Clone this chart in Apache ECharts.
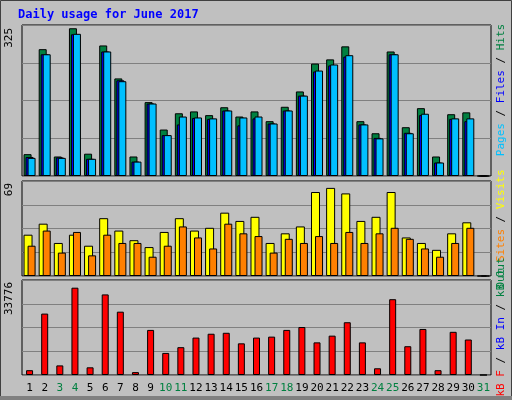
<!DOCTYPE html>
<html>
<head>
<meta charset="utf-8">
<script src="https://cdn.jsdelivr.net/npm/echarts@6/dist/echarts.min.js"></script>
<style>
  html, body { margin: 0; padding: 0; background: #c0c0c0; }
  #chart { width: 512px; height: 400px; }
</style>
</head>
<body>
<div id="chart"></div>
<script>
var days = [];
for (var d = 1; d <= 31; d++) days.push(String(d));
var weekend = ['3','4','10','11','17','18','24','25','31'];

var hits  = [47,273,42,318,48,281,210,42,159,100,135,139,131,148,128,139,118,149,182,242,251,279,118,92,268,105,146,42,133,137,0];
var files = [41,262,40,305,37,268,206,31,156,88,111,125,123,141,109,124,113,141,173,225,238,257,111,82,262,93,131,29,123,118,0];
var pages = [39,262,39,306,37,268,204,31,156,88,128,126,124,141,126,128,113,141,173,227,240,260,111,81,262,92,134,29,124,124,0];

var visits = [30,38,24,30,22,42,33,26,21,32,42,33,35,46,40,43,24,31,36,61,64,60,40,43,61,28,24,19,31,39,0];
var sites  = [22,33,17,32,15,30,24,24,14,22,36,28,20,38,31,29,17,27,24,29,24,32,24,31,35,27,20,14,24,35,0];

var kbytes = [1706,21830,3411,31040,2729,28650,22510,1023,16030,7846,9892,13300,14670,15010,11260,13300,13640,16030,17060,11600,13990,18760,11600,2388,26950,10230,16370,1706,15350,12620,0];

var maxHits = 325, maxVisits = 69, maxKB = 33776;

function yAx(idx, max) {
  return {
    gridIndex: idx, min: 0, max: max, interval: max / 4,
    axisLabel: { show: false }, axisLine: { show: false }, axisTick: { show: false },
    splitLine: { lineStyle: { color: '#808080', width: 1 } }
  };
}
function xAx(idx, labels) {
  return {
    gridIndex: idx, type: 'category', data: days,
    axisLine: { show: false }, axisTick: { show: false },
    axisLabel: labels ? {
      margin: 8, interval: 0, fontFamily: 'DejaVu Sans Mono', fontSize: 11,
      formatter: function (v) { return weekend.indexOf(v) >= 0 ? '{w|' + v + '}' : '{n|' + v + '}'; },
      rich: { w: { color: '#008040', fontFamily: 'DejaVu Sans Mono', fontSize: 11 },
              n: { color: '#000000', fontFamily: 'DejaVu Sans Mono', fontSize: 11 } }
    } : { show: false }
  };
}
function bar(name, idx, data, color, w, gap) {
  return {
    name: name, type: 'bar', xAxisIndex: idx, yAxisIndex: idx, data: data,
    barWidth: w, barGap: gap, silent: true,
    itemStyle: { color: color, borderColor: '#000', borderWidth: 1 }
  };
}
var mono = 'DejaVu Sans Mono';
function sideText(x, y, parts) {
  var txt = parts.map(function (p) { return '{' + p[0] + '|' + p[1] + '}'; }).join('');
  var rich = {};
  parts.forEach(function (p) { rich[p[0]] = { fill: p[2], font: '11px ' + mono }; });
  return { type: 'text', x: x, y: y, rotation: Math.PI / 2,
    style: { text: txt, rich: rich, font: '11px ' + mono, align: 'center', verticalAlign: 'middle' } };
}

var option = {
  backgroundColor: '#c0c0c0',
  animation: false,
  grid: [
    { left: 22, right: 21, top: 25, height: 151, show: true, borderColor: '#000', borderWidth: 1, backgroundColor: '#c0c0c0' },
    { left: 22, right: 21, top: 181, height: 95, show: true, borderColor: '#000', borderWidth: 1, backgroundColor: '#c0c0c0' },
    { left: 22, right: 21, top: 280, height: 95, show: true, borderColor: '#000', borderWidth: 1, backgroundColor: '#c0c0c0' }
  ],
  xAxis: [xAx(0, false), xAx(1, false), xAx(2, true)],
  yAxis: [yAx(0, maxHits), yAx(1, maxVisits), yAx(2, maxKB)],
  series: [
    bar('Hits', 0, hits, '#008040', 8, '-75%'),
    bar('Files', 0, files, '#0000ff', 8, '-75%'),
    bar('Pages', 0, pages, '#00c0ff', 8, '-75%'),
    bar('Visits', 1, visits, '#ffff00', 9, '-55%'),
    bar('Sites', 1, sites, '#ff8000', 8, '-55%'),
    bar('KBytes', 2, kbytes, '#ff0000', 7, '0%')
  ],
  graphic: [
    { type: 'rect', shape: { x: 0.5, y: 0.5, width: 511, height: 399 }, style: { fill: 'none', stroke: '#404040', lineWidth: 1 } },
    { type: 'rect', shape: { x: 0, y: 396, width: 512, height: 4 }, style: { fill: '#808080' } },
    { type: 'text', x: 18, y: 9, style: { text: 'Daily usage for June 2017', fill: '#0000ff', font: 'bold 12px ' + mono } },
    { type: 'text', x: 9, y: 28, rotation: Math.PI / 2, style: { text: String(maxHits), fill: '#000', font: '11px ' + mono, align: 'right', verticalAlign: 'middle' } },
    { type: 'text', x: 9, y: 183, rotation: Math.PI / 2, style: { text: String(maxVisits), fill: '#000', font: '11px ' + mono, align: 'right', verticalAlign: 'middle' } },
    { type: 'text', x: 9, y: 282, rotation: Math.PI / 2, style: { text: String(maxKB), fill: '#000', font: '11px ' + mono, align: 'right', verticalAlign: 'middle' } },
    sideText(501, 90, [['a', 'Pages', '#00c0ff'], ['s', ' / ', '#000'], ['b', 'Files', '#0000ff'], ['t', ' / ', '#000'], ['c', 'Hits', '#008040']]),
    sideText(501, 229, [['a', 'Out ', '#008040'], ['b', 'Sites', '#ff8000'], ['s', ' / ', '#000'], ['c', 'Visits', '#ffff00']]),
    sideText(501, 327, [['a', 'kB F', '#ff0000'], ['s', ' / ', '#000'], ['b', 'kB In', '#0000ff'], ['t', ' / ', '#000'], ['c', 'kB Out', '#008040']])
  ]
};
var myChart = echarts.init(document.getElementById('chart'));
myChart.setOption(option);
</script>
</body>
</html>
